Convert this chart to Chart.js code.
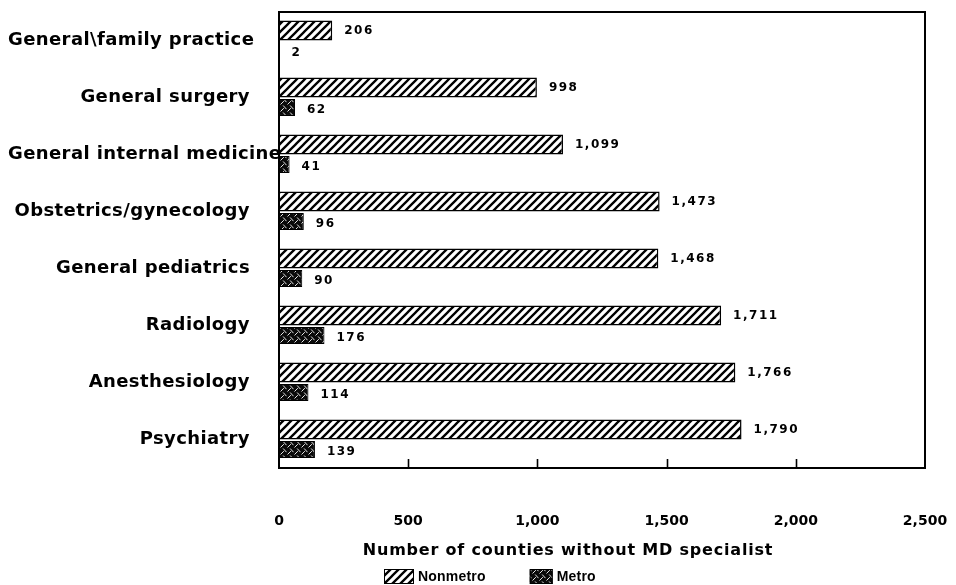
<!DOCTYPE html>
<html>
<head>
<meta charset="utf-8">
<script src="https://cdn.jsdelivr.net/npm/chart.js@4.4.1/dist/chart.umd.min.js"></script>
<style>
  html, body { margin: 0; padding: 0; background: #fff; }
  canvas { display: block; }
</style>
</head>
<body>
<canvas id="chart" width="956" height="585"></canvas>
<script>
// Counties without an MD specialist, by specialty
const specialties = [
  "General\\family practice",
  "General surgery",
  "General internal medicine",
  "Obstetrics/gynecology",
  "General pediatrics",
  "Radiology",
  "Anesthesiology",
  "Psychiatry"
];
const nonmetro = [206, 998, 1099, 1473, 1468, 1711, 1766, 1790];
const metro = [2, 62, 41, 96, 90, 176, 114, 139];
const xTickValues = [0, 500, 1000, 1500, 2000, 2500];
const xTickLabels = ["0", "500", "1,000", "1,500", "2,000", "2,500"];
const seriesNames = ["Nonmetro", "Metro"];
const axisTitle = "Number of counties without MD specialist";

// Fill patterns: diagonal hatch for nonmetro, dark cross-hatch for metro
function makeHatch() {
  const s = 8;
  const c = document.createElement('canvas');
  c.width = s; c.height = s;
  const g = c.getContext('2d');
  g.fillStyle = '#fff';
  g.fillRect(0, 0, s, s);
  g.strokeStyle = '#000';
  g.lineWidth = 2.3;
  g.beginPath();
  for (let k = -1; k <= 1; k++) {
    g.moveTo(k * s - 1, s + 1);
    g.lineTo(k * s + s + 1, -1);
  }
  g.stroke();
  return g.createPattern(c, 'repeat');
}
function makeCross() {
  const s = 7;
  const c = document.createElement('canvas');
  c.width = s; c.height = s;
  const g = c.getContext('2d');
  g.fillStyle = '#0a0a0a';
  g.fillRect(0, 0, s, s);
  g.strokeStyle = '#fff';
  g.lineWidth = 0.9;
  g.beginPath();
  g.moveTo(0.5, s - 0.5); g.lineTo(s * 0.55, s * 0.45);
  g.moveTo(s * 0.45, 0.5); g.lineTo(s - 0.5, s * 0.6);
  g.stroke();
  return g.createPattern(c, 'repeat');
}
const hatchFill = makeHatch();
const crossFill = makeCross();

const fmt = v => v.toLocaleString('en-US');

const decorations = {
  id: 'decorations',
  beforeDraw(chart) {
    const ctx = chart.ctx;
    ctx.save();
    ctx.fillStyle = '#fff';
    ctx.fillRect(0, 0, chart.width, chart.height);
    ctx.restore();
  },
  afterDatasetsDraw(chart) {
    const ctx = chart.ctx;
    const a = chart.chartArea;
    const xs = chart.scales.x;
    ctx.save();
    // frame
    ctx.strokeStyle = '#000';
    ctx.lineWidth = 2;
    ctx.strokeRect(a.left, a.top, a.right - a.left, a.bottom - a.top);
    // inward tick marks on the bottom axis
    ctx.lineWidth = 1.6;
    xTickValues.forEach(v => {
      if (v <= xs.min || v >= xs.max) return;
      const px = Math.round(xs.getPixelForValue(v)) + 0.5;
      ctx.beginPath();
      ctx.moveTo(px, a.bottom);
      ctx.lineTo(px, a.bottom - 9);
      ctx.stroke();
    });
    // value labels
    ctx.fillStyle = '#000';
    ctx.font = 'bold 12px "DejaVu Sans"';
    ctx.letterSpacing = '1.5px';
    ctx.textAlign = 'left';
    ctx.textBaseline = 'middle';
    chart.data.datasets.forEach((ds, di) => {
      const meta = chart.getDatasetMeta(di);
      meta.data.forEach((bar, i) => {
        ctx.fillText(fmt(ds.data[i]), bar.x + 12, bar.y + (di === 1 ? 2 : 0));
      });
    });
    ctx.restore();
  },
  afterDraw(chart) {
    const ctx = chart.ctx;
    const ys = chart.scales.y;
    ctx.save();
    // category labels
    ctx.fillStyle = '#000';
    ctx.font = 'bold 18px "DejaVu Sans"';
    ctx.letterSpacing = '0.4px';
    ctx.textBaseline = 'middle';
    ctx.textAlign = 'left';
    specialties.forEach((name, i) => {
      const y = ys.getPixelForTick(i);
      const w = ctx.measureText(name).width;
      let x = 250 - w;
      if (x < 8) x = 8;
      ctx.fillText(name, x, y);
    });
    // axis title
    ctx.font = 'bold 16px "DejaVu Sans"';
    ctx.letterSpacing = '0.8px';
    ctx.textAlign = 'center';
    ctx.fillText(axisTitle, 568, 551);
    // legend
    ctx.letterSpacing = '0.2px';
    ctx.font = 'bold 14px "Liberation Sans"';
    ctx.textAlign = 'left';
    const ly = 576;
    let lx = 384;
    const fills = [hatchFill, crossFill];
    seriesNames.forEach((name, i) => {
      const bw = i === 0 ? 30 : 23;
      ctx.fillStyle = fills[i];
      ctx.fillRect(lx, ly - 7, bw, 15);
      ctx.strokeStyle = '#000';
      ctx.lineWidth = 1;
      ctx.strokeRect(lx + 0.5, ly - 6.5, bw - 1, 14);
      ctx.fillStyle = '#000';
      ctx.fillText(name, lx + bw + 4, ly + 1);
      lx += bw + 4 + ctx.measureText(name).width + 44;
    });
    ctx.restore();
  }
};

new Chart(document.getElementById('chart'), {
  type: 'bar',
  data: {
    labels: specialties,
    datasets: [
      {
        label: seriesNames[0],
        data: nonmetro,
        backgroundColor: hatchFill,
        borderColor: '#000',
        borderWidth: { top: 1.5, right: 1.5, bottom: 1.5, left: 0 },
        borderSkipped: false,
        categoryPercentage: 0.7,
        barPercentage: 1.0
      },
      {
        label: seriesNames[1],
        data: metro,
        backgroundColor: crossFill,
        borderColor: '#000',
        borderWidth: { top: 1, right: 1, bottom: 1, left: 0 },
        borderSkipped: false,
        categoryPercentage: 0.7,
        barPercentage: 0.85
      }
    ]
  },
  options: {
    indexAxis: 'y',
    responsive: false,
    animation: false,
    layout: { padding: { left: 0, right: 31, top: 12, bottom: 24 } },
    plugins: {
      legend: { display: false },
      tooltip: { enabled: false }
    },
    scales: {
      x: {
        type: 'linear',
        min: 0,
        max: 2500,
        grid: { display: false, drawTicks: false },
        border: { display: false },
        afterBuildTicks: scale => {
          scale.ticks = xTickValues.map(v => ({ value: v }));
        },
        afterFit: scale => {
          scale.height = 93;
          scale.paddingLeft = 0;
          scale.paddingRight = 0;
        },
        ticks: {
          padding: 45,
          color: '#000',
          font: { family: '"DejaVu Sans"', size: 14, weight: 'bold' },
          callback: (v, i) => xTickLabels[i]
        }
      },
      y: {
        grid: { display: false, drawTicks: false },
        border: { display: false },
        ticks: { display: false },
        afterFit: scale => { scale.width = 279; }
      }
    }
  },
  plugins: [decorations]
});
</script>
</body>
</html>
